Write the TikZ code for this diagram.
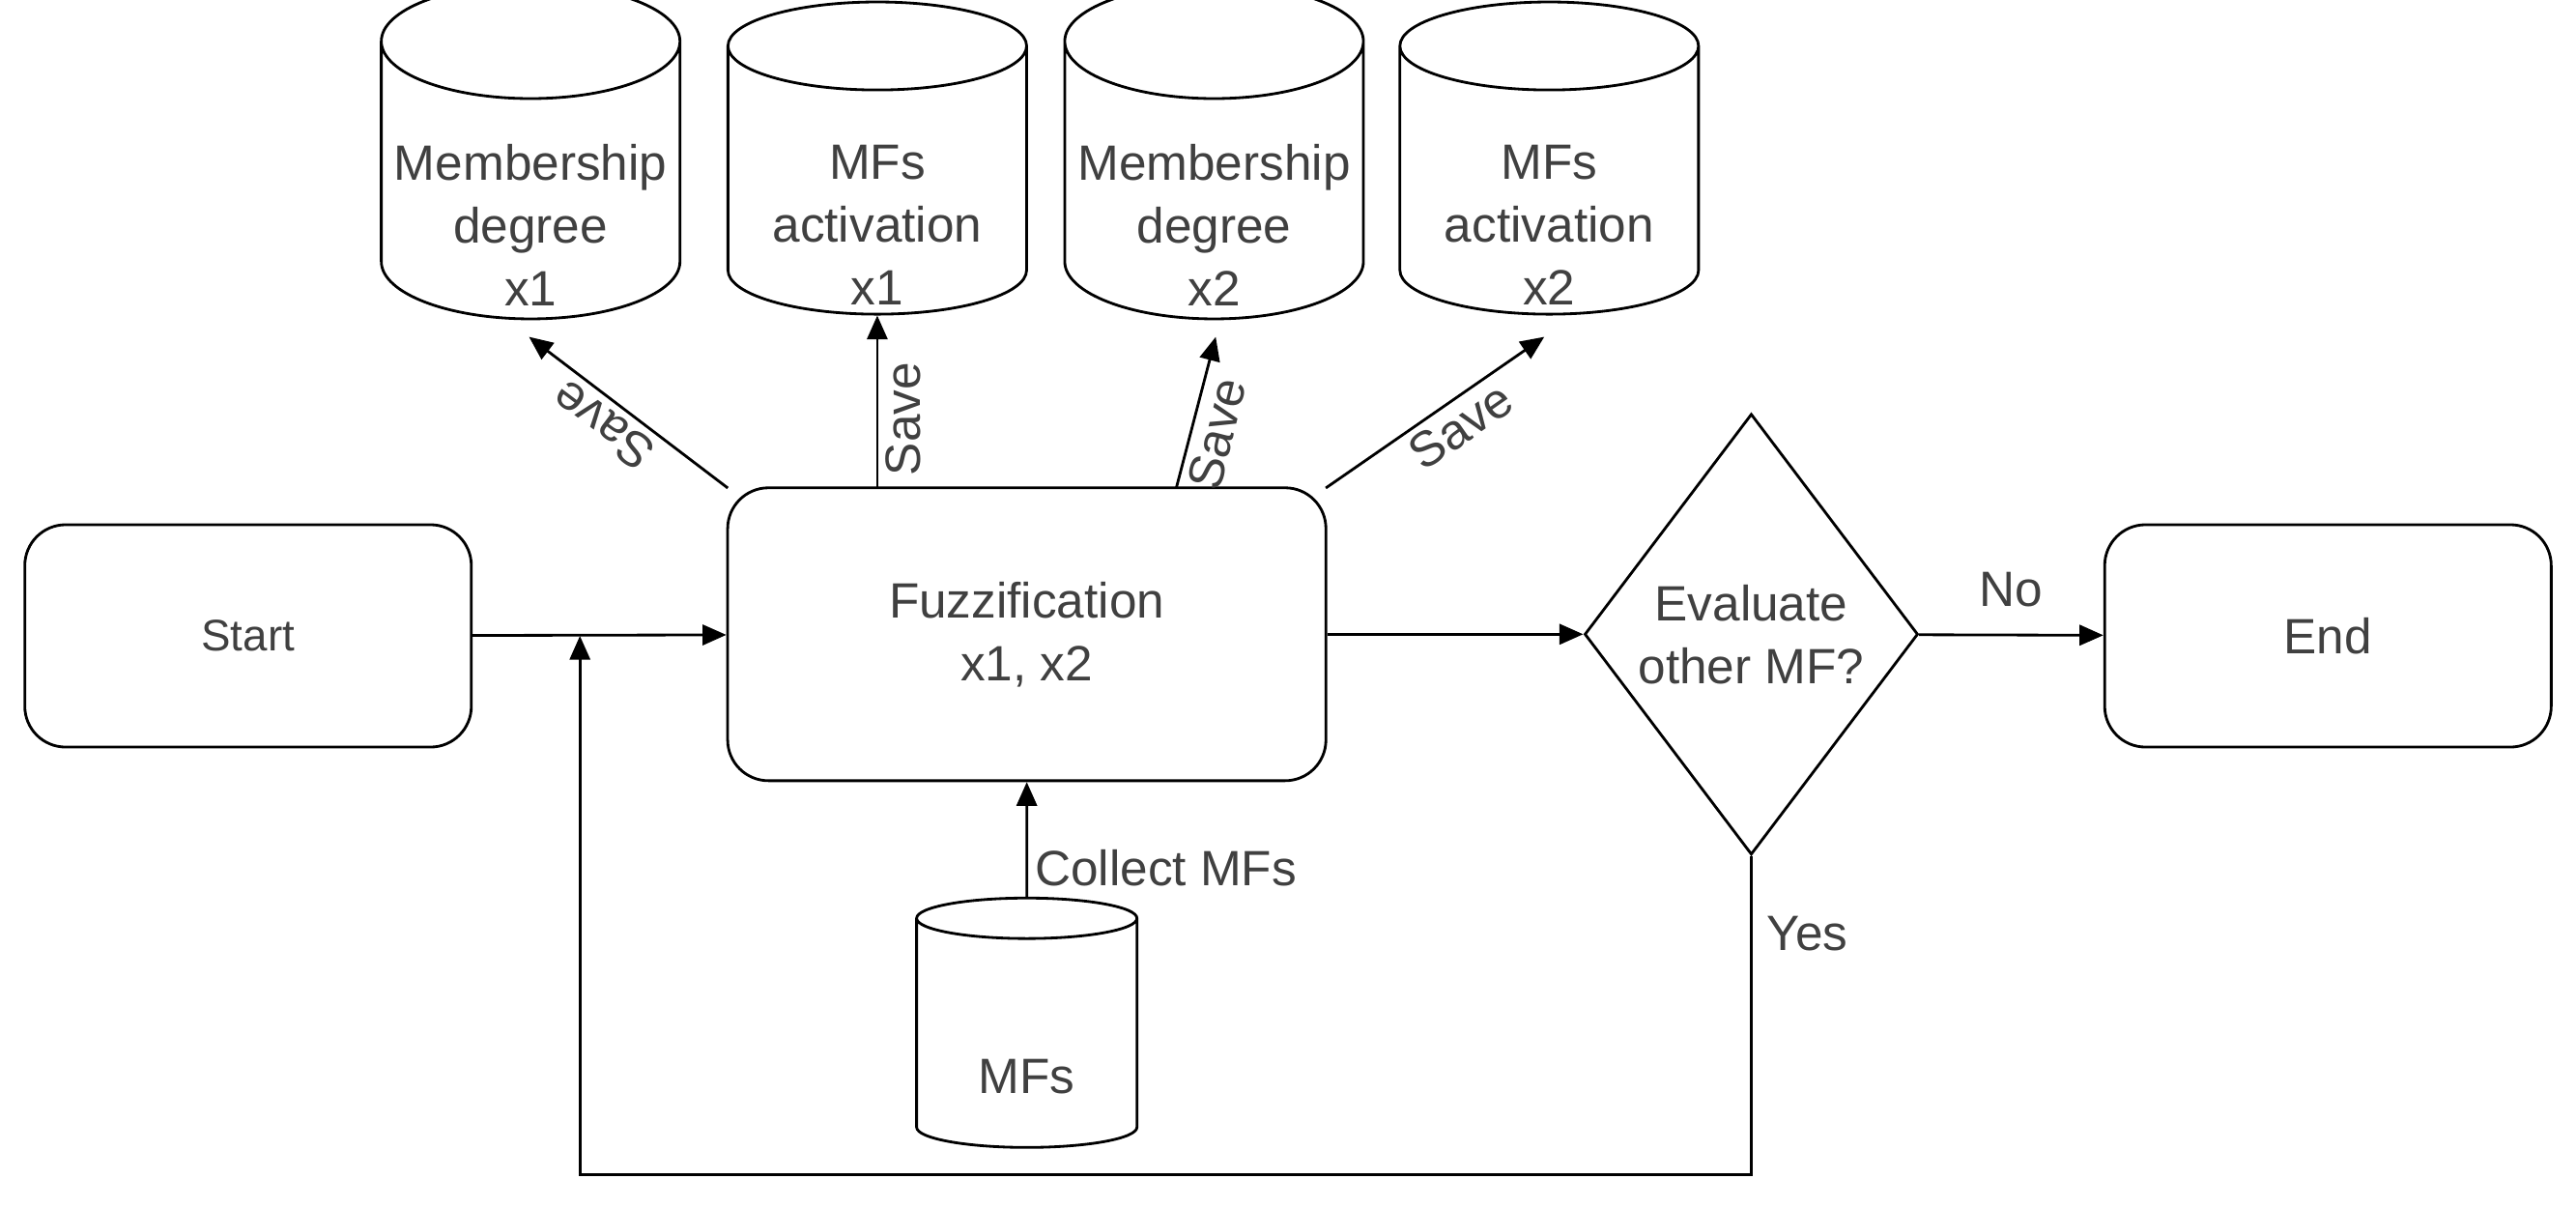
\documentclass[tikz,border=0pt]{standalone}
\usepackage{fontspec}
\setmainfont{Liberation Sans}
\usetikzlibrary{shapes.geometric,arrows.meta}
\tikzset{
  txt/.style={align=center, font=\fontsize{14.6}{18.5}\selectfont, text=black!75},
  proc/.style={draw, rounded corners=12pt, thick, txt},
  db/.style={draw, thick, cylinder, shape border rotate=90, aspect=0.42, inner sep=0pt, txt, text opacity=0},
  dec/.style={draw, thick, diamond, txt, inner sep=0pt, minimum width=3.45cm, minimum height=4.56cm},
  arr/.style={thick, -{Triangle[length=7pt,width=6pt]}},
  lbl/.style={txt, inner sep=2pt}
}
\begin{document}
\begin{tikzpicture}[x=0.017cm, y=-0.017cm]
\useasboundingbox (0,0) rectangle (1568,735);
\node[proc, minimum width=4.62cm, minimum height=2.3cm, font=\fontsize{13}{15}\selectfont] (start) at (151,387) {Start};
\node[proc, minimum width=6.19cm, minimum height=3.03cm] (fz) at (625,386) {Fuzzification\\x1, x2};
\node[dec] (ev) at (1066,386) {Evaluate\\other MF?};
\node[proc, minimum width=4.62cm, minimum height=2.3cm] (end) at (1417,387) {End};
% data stores
\node[db, minimum width=3.09cm, minimum height=3.23cm] (md1) at (323,110) {Membership\\degree\\x1};
\node[db, minimum width=3.09cm, minimum height=3.23cm] (ma1) at (534,110) {MFs\\activation\\x1};
\node[db, minimum width=3.09cm, minimum height=3.23cm] (md2) at (739,110) {Membership\\degree\\x2};
\node[db, minimum width=3.09cm, minimum height=3.23cm] (ma2) at (943,110) {MFs\\activation\\x2};
\node[db, minimum width=2.28cm, minimum height=2.58cm] (mfs) at (625,629) {MFs};
\node[txt] (md1t) at (323,137) {Membership\\degree\\x1};
\node[txt] (ma1t) at (534,137) {MFs\\activation\\x1};
\node[txt] (md2t) at (739,137) {Membership\\degree\\x2};
\node[txt] (ma2t) at (943,137) {MFs\\activation\\x2};
\node[txt] (mfst) at (625,655) {MFs};
% connectors
\coordinate (loopA) at (1066,715);
\coordinate (loopB) at (353,715);
\coordinate (join) at (353,387);
\draw[arr] (start) -- (fz);
\draw[arr] (fz) -- (ev);
\draw[arr] (ev) -- node[lbl, above=6pt] {No} (end);
\draw[arr] (ev.south) -- (loopA) -- (loopB) -- (join);
\node[lbl] (yes) at (1100,568) {Yes};
\draw[arr] (mfs) -- node[lbl, right, pos=0.25] {Collect MFs} (fz);
\coordinate (s1) at (443,297);
\coordinate (s2) at (534,297);
\coordinate (s3) at (716,297);
\coordinate (s4) at (807,297);
\coordinate (t1) at (322,205);
\coordinate (t3) at (740,205);
\coordinate (t4) at (940,205);
\draw[arr] (s1) -- node[lbl, rotate=143, above, pos=0.55] {Save} (t1);
\draw[arr] (s2) -- node[lbl, rotate=90, below, pos=0.4] {Save} (ma1.south);
\draw[arr] (s3) -- node[lbl, rotate=76, below, pos=0.4] {Save} (t3);
\draw[arr] (s4) -- node[lbl, rotate=35, below, pos=0.55] {Save} (t4);
\end{tikzpicture}
\end{document}
